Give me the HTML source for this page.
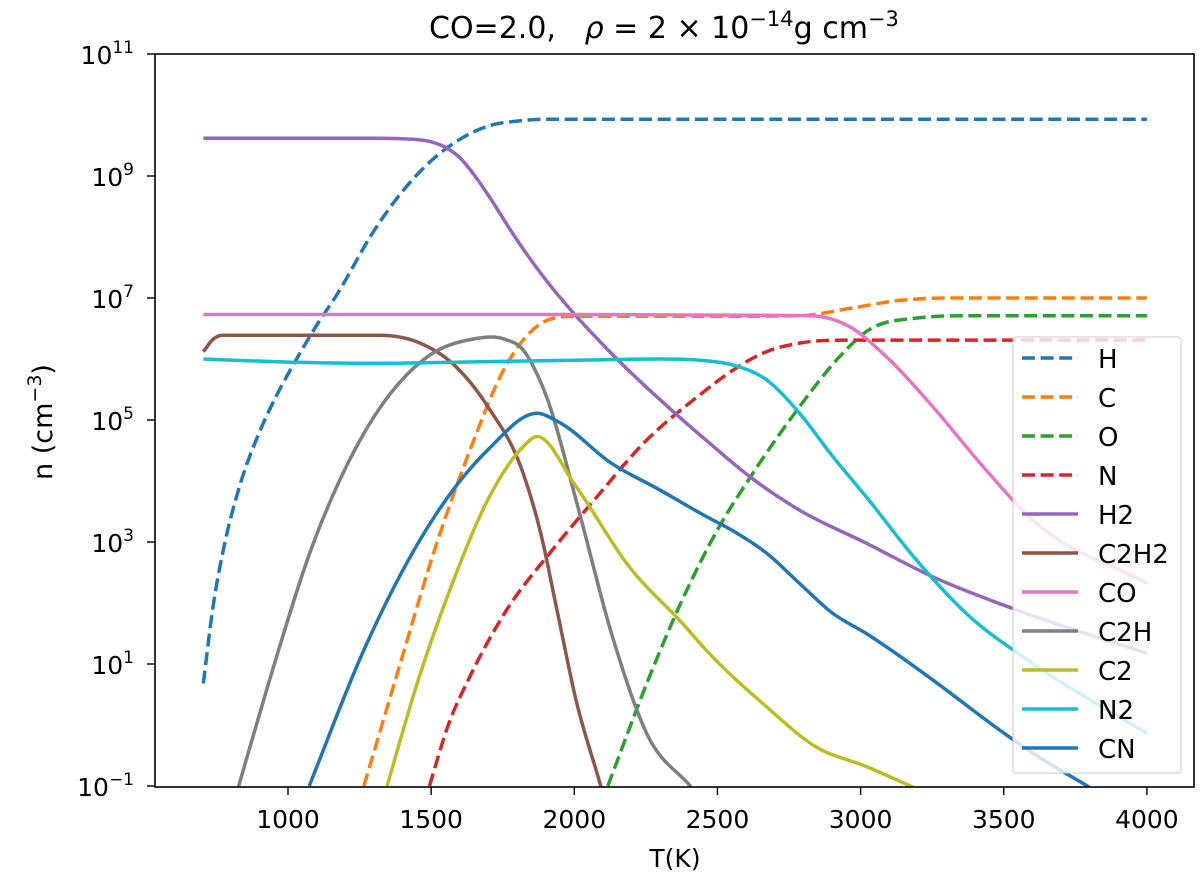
<!DOCTYPE html>
<html><head><meta charset="utf-8"><style>
body{margin:0;background:#fff;}
svg{display:block;font-family:"DejaVu Sans","Liberation Sans",sans-serif;}
</style></head><body>
<svg id="chart" width="1200" height="874" viewBox="0 0 1200 874" xmlns="http://www.w3.org/2000/svg">
<defs><clipPath id="plotclip"><rect x="155" y="54" width="1039" height="733"/></clipPath></defs>
<text x="429" y="38" font-size="30" xml:space="preserve">CO=2.0,   <tspan font-style="italic">ρ</tspan> = 2 × 10<tspan font-size="21" dy="-12">−14</tspan><tspan dy="12">g cm</tspan><tspan font-size="21" dy="-12">−3</tspan></text>
<g id="series" clip-path="url(#plotclip)"></g>
<g id="axes"></g>
<g id="legend"></g>
<text x="675" y="867" font-size="25" text-anchor="middle">T(K)</text>
<text transform="translate(52,422) rotate(-90)" font-size="27" text-anchor="middle">n (cm<tspan font-size="19" dy="-11">−3</tspan><tspan dy="11">)</tspan></text>
</svg>
<script>
const xTicks=[1000,1500,2000,2500,3000,3500,4000];
const yTicks=[-1,1,3,5,7,9,11];
const names=["H","C","O","N","H2","C2H2","CO","C2H","C2","N2","CN"];
const colors=["#1f77b4","#ff7f0e","#2ca02c","#d62728","#9467bd","#8c564b","#e377c2","#7f7f7f","#bcbd22","#17becf","#1f77b4"];
const dashed=[true,true,true,true,false,false,false,false,false,false,false];
const T_H=[704,740,780,830,900,960,1030,1100,1170,1300,1400,1500,1600,1700,1800,1900,2500,3200,4000];
const V_H=[0.68,2.0,3.0,3.9,4.8,5.4,6.0,6.55,7.05,8.1,8.75,9.25,9.6,9.82,9.9,9.93,9.93,9.93,9.93];
const T_C=[1265,1389,1512,1636,1759,1883,2006,2400,2787,2962,3136,3300,3650,4000];
const V_C=[-1.0,0.96,2.87,4.51,5.87,6.58,6.7,6.7,6.71,6.83,6.96,7.0,7.0,7.0];
const T_O=[2117,2253,2377,2500,2620,2787,2927,3020,3194,3400,3700,4000];
const V_O=[-1.0,0.68,2.05,3.2,4.1,5.22,6.04,6.45,6.67,6.71,6.71,6.71];
const T_N=[1494,1560,1636,1759,1920,2068,2253,2438,2555,2671,2787,2962,3300,3650,4000];
const V_N=[-1.0,0.0,0.8,1.85,2.85,3.68,4.67,5.41,5.82,6.12,6.26,6.31,6.31,6.31,6.31];
const T_H2=[704,1000,1300,1400,1500,1550,1600,1650,1700,1800,1900,1957,2130,2352,2460,2613,2787,3020,3252,3531,4002];
const V_H2=[9.62,9.62,9.62,9.61,9.56,9.47,9.3,9.02,8.68,7.95,7.3,6.97,6.09,5.11,4.67,4.07,3.52,2.98,2.43,1.91,1.17];
const T_C2H2=[704,740,772,1000,1300,1451,1574,1698,1821,1883,1944,2006,2093,2150];
const V_C2H2=[6.12,6.33,6.39,6.39,6.39,6.28,5.93,5.22,4.13,3.14,1.78,0.41,-1.01,-2];
const T_CO=[704,1300,2000,2500,2822,2962,3078,3252,3427,3601,4002];
const V_CO=[6.73,6.73,6.73,6.72,6.71,6.53,6.09,5.22,4.24,3.36,2.32];
const T_C2H=[827,932,1080,1265,1488,1650,1710,1760,1821,1860,1907,2006,2130,2253,2407];
const V_C2H=[-1.01,0.68,2.87,4.78,6.04,6.33,6.36,6.32,6.15,5.85,5.33,3.69,1.5,-0.14,-1.01];
const T_C2=[1346,1451,1574,1698,1821,1870,2006,2191,2377,2460,2671,2845,3020,3183];
const V_C2=[-1.0,0.68,2.32,3.69,4.56,4.73,3.91,2.6,1.67,1.23,0.3,-0.36,-0.68,-1.02];
const T_N2=[704,1000,1300,1600,2000,2300,2438,2555,2671,2787,2903,3020,3194,3369,3601,4002];
const V_N2=[6.0,5.95,5.93,5.95,5.98,6.0,5.98,5.9,5.66,5.11,4.4,3.74,2.71,1.83,1.01,-0.14];
const T_CN=[1074,1265,1512,1698,1870,1944,2130,2300,2460,2555,2671,2787,2903,3020,3252,3485,3601,3799];
const V_CN=[-1.0,1.23,3.42,4.51,5.11,4.97,4.29,3.85,3.42,3.18,2.82,2.32,1.83,1.5,0.74,-0.08,-0.46,-1.02];
const allT=[T_H,T_C,T_O,T_N,T_H2,T_C2H2,T_CO,T_C2H,T_C2,T_N2,T_CN];
const allV=[V_H,V_C,V_O,V_N,V_H2,V_C2H2,V_CO,V_C2H,V_C2,V_N2,V_CN];

const NS="http://www.w3.org/2000/svg";
function xS(t){return 288+(t-1000)*0.2863;}
function yS(l){return 54+(11-l)*61;}
function mk(tag,attrs,parent){const e=document.createElementNS(NS,tag);for(const k in attrs)e.setAttribute(k,attrs[k]);parent.appendChild(e);return e;}
function lim(m,a,b){
  if(a*b<=0)return 0;
  const mx=3*Math.min(Math.abs(a),Math.abs(b));
  return Math.sign(m)*Math.min(Math.abs(m),mx);
}
function pathD(ts,vs){
  const X=ts.map(xS),Y=vs.map(yS),n=X.length;
  const d=[],m=new Array(n);
  for(let i=0;i<n-1;i++)d.push((Y[i+1]-Y[i])/(X[i+1]-X[i]));
  m[0]=d[0];m[n-1]=d[n-2];
  for(let i=1;i<n-1;i++){
    const h0=X[i]-X[i-1],h1=X[i+1]-X[i];
    m[i]=lim((d[i-1]*h1+d[i]*h0)/(h0+h1),d[i-1],d[i]);
  }
  let s="M"+X[0].toFixed(1)+","+Y[0].toFixed(1);
  for(let i=0;i<n-1;i++){
    const h=(X[i+1]-X[i])/3;
    s+=" C"+(X[i]+h).toFixed(1)+","+(Y[i]+m[i]*h).toFixed(1)+" "+(X[i+1]-h).toFixed(1)+","+(Y[i+1]-m[i+1]*h).toFixed(1)+" "+X[i+1].toFixed(1)+","+Y[i+1].toFixed(1);
  }
  return s;
}
const sg=document.getElementById("series");
for(let s=0;s<names.length;s++){
  const a={d:pathD(allT[s],allV[s]),fill:"none",stroke:colors[s],"stroke-width":3.5,"stroke-linejoin":"round"};
  if(dashed[s])a["stroke-dasharray"]="13,5.6";
  const el=mk("path",a,sg);
  
  
}
const ax=document.getElementById("axes");
const frame=mk("rect",{x:155,y:54,width:1039,height:733,fill:"none",stroke:"#000","stroke-width":1.6},ax);


for(const t of xTicks){
  const x=xS(t);
  mk("line",{x1:x,y1:787,x2:x,y2:795,stroke:"#000","stroke-width":1.4},ax);
  const tx=mk("text",{x:x,y:828,"font-size":25,"text-anchor":"middle"},ax);
  tx.textContent=t;
  
  
}
for(const l of yTicks){
  const y=yS(l);
  mk("line",{x1:147,y1:y,x2:155,y2:y,stroke:"#000","stroke-width":1.4},ax);
  const tx=mk("text",{x:134,y:y+10,"font-size":25,"text-anchor":"end"},ax);
  tx.innerHTML='10<tspan font-size="17" dy="-11">'+(l<0?'−'+(-l):l)+'</tspan>';
  
  
}
const lg=document.getElementById("legend");
const box=mk("rect",{x:1013,y:337,width:168,height:436,rx:3,fill:"#fff","fill-opacity":0.8,stroke:"#ccc","stroke-width":1},lg);


for(let s=0;s<names.length;s++){
  const y=358+s*39;
  const g=mk("g",{},lg);
  
  
  const a={x1:1022,y1:y,x2:1078,y2:y,stroke:colors[s],"stroke-width":3.5};
  if(dashed[s])a["stroke-dasharray"]="13,5.6";
  mk("line",a,g);
  const tx=mk("text",{x:1098,y:y+10,"font-size":26},g);
  tx.textContent=names[s];
}
</script>
</body></html>
